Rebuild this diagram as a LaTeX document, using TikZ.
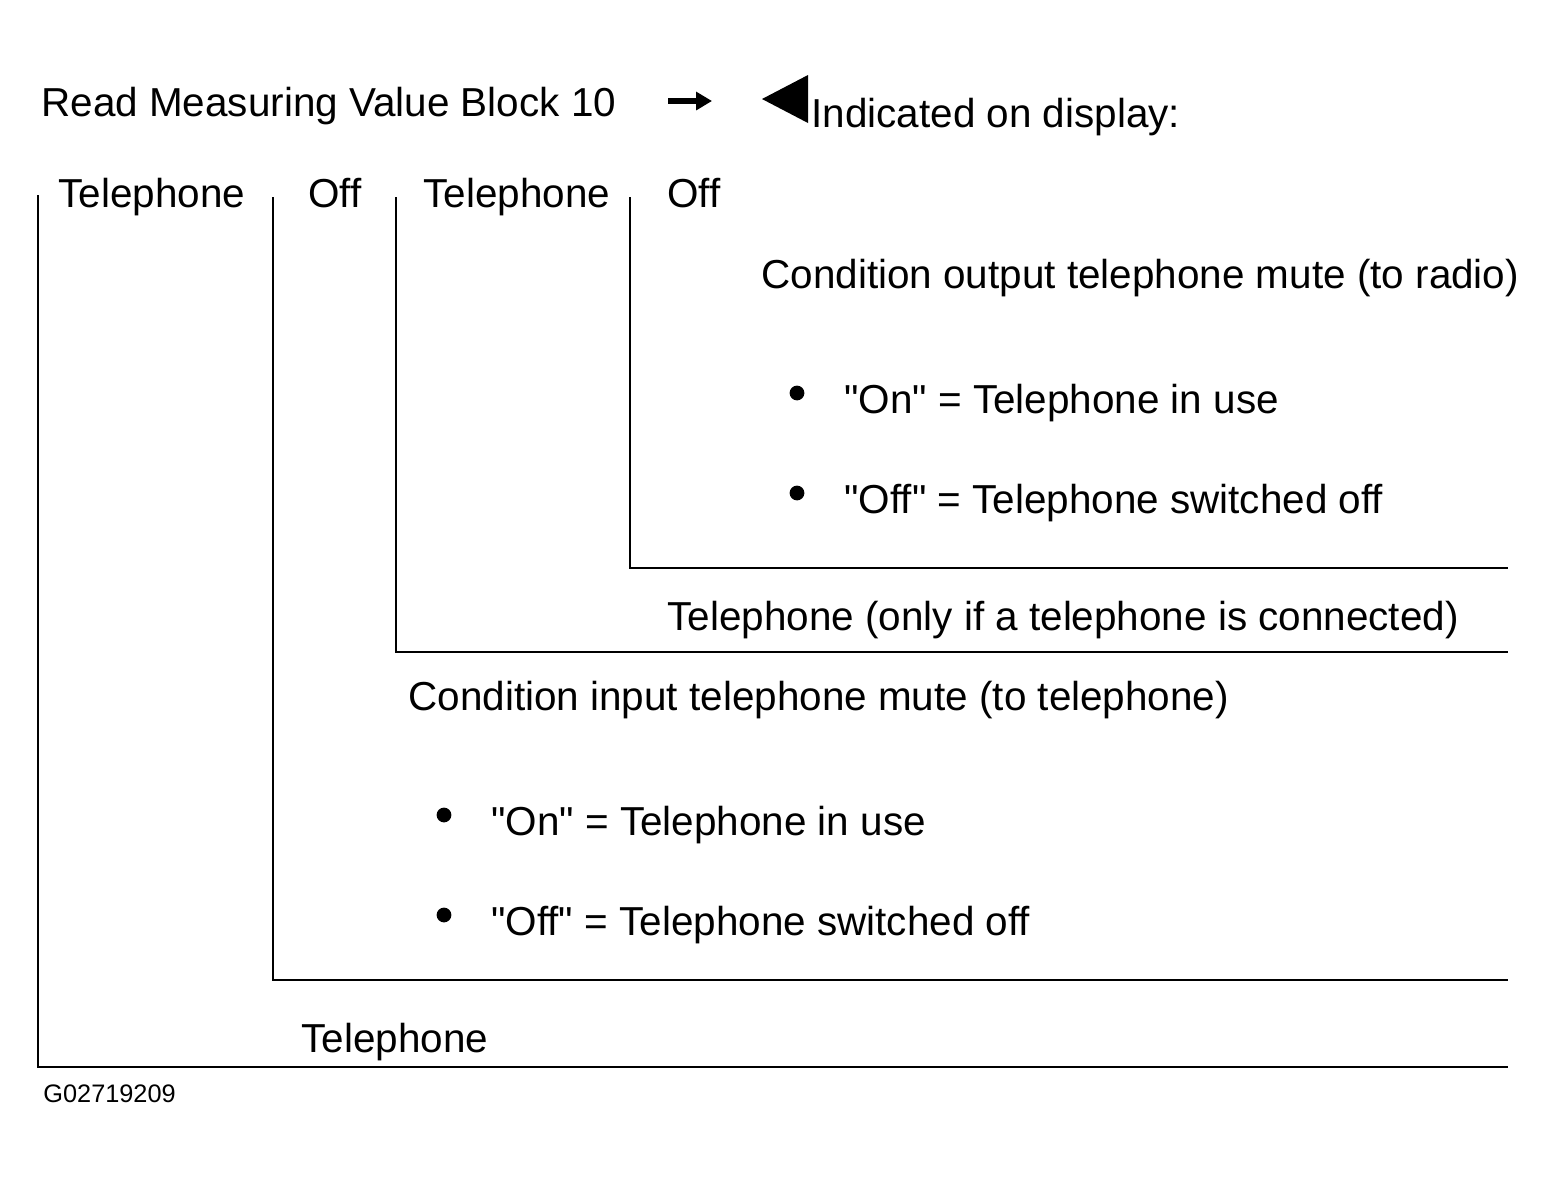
\documentclass[tikz,border=0pt]{standalone}
\usepackage{fontspec}
\setmainfont{Liberation Sans}[Ligatures=TeXOff]
\usetikzlibrary{arrows.meta, positioning}

\begin{document}
\begin{tikzpicture}[x=0.01cm, y=-0.01cm, line width=0.8pt,
		txt/.style={anchor=base west, inner sep=0pt, font=\fontsize{11.5}{13}\selectfont},
		dot/.style={circle, fill, inner sep=0pt, minimum size=4.2pt}]
				\useasboundingbox (0,0) rectangle (1546,1178);

				\node (Read) [txt] at (40,116) {Read Measuring Value Block 10};
				\coordinate (ArrA) at (668,101);
				\coordinate (ArrB) at (712,101);
				\draw [line width=1.7pt, -{Triangle[length=4.5pt,width=5pt]}] (ArrA) -- (ArrB);
				\fill (762,99) -- (808,75) -- (808,123) -- cycle;
				\node (Disp) [txt] at (810,127) {Indicated on display:};

				\node (TelA) [txt] at (57,207) {Telephone};
				\node (OffA) [txt] at (307,207) {Off};
				\node (TelB) [txt] at (422,207) {Telephone};
				\node (OffB) [txt] at (666,207) {Off};

				\coordinate (BraA) at (38,195);
				\coordinate (BraB) at (273,197);
				\coordinate (BraC) at (396,197);
				\coordinate (BraD) at (630,197);
				\coordinate (EndA) at (1508,1067);
				\coordinate (EndB) at (1508,980);
				\coordinate (EndC) at (1508,652);
				\coordinate (EndD) at (1508,568);
				\draw (BraA) |- (EndA);
				\draw (BraB) |- (EndB);
				\draw (BraC) |- (EndC);
				\draw (BraD) |- (EndD);

				\node (Out) [txt] at (760,288) {Condition output telephone mute (to radio)};
				\node (DotA) [dot] at (797,393) {};
				\node (OutOn) [txt] at (843,413) {"On" = Telephone in use};
				\node (DotB) [dot] at (797,493) {};
				\node (OutOff) [txt] at (843,513) {"Off" = Telephone switched off};

				\node (Conn) [txt] at (666,630) {Telephone (only if a telephone is connected)};

				\node (In) [txt] at (407,710) {Condition input telephone mute (to telephone)};
				\node (DotC) [dot] at (444,815) {};
				\node (InOn) [txt] at (490,835) {"On" = Telephone in use};
				\node (DotD) [dot] at (444,915) {};
				\node (InOff) [txt] at (490,935) {"Off" = Telephone switched off};

				\node (Tel) [txt] at (300,1052) {Telephone};
				\node (Code) [anchor=base west, inner sep=0pt, font=\fontsize{7.2}{9}\selectfont] at (42,1102) {G02719209};
			\end{tikzpicture}
\end{document}
